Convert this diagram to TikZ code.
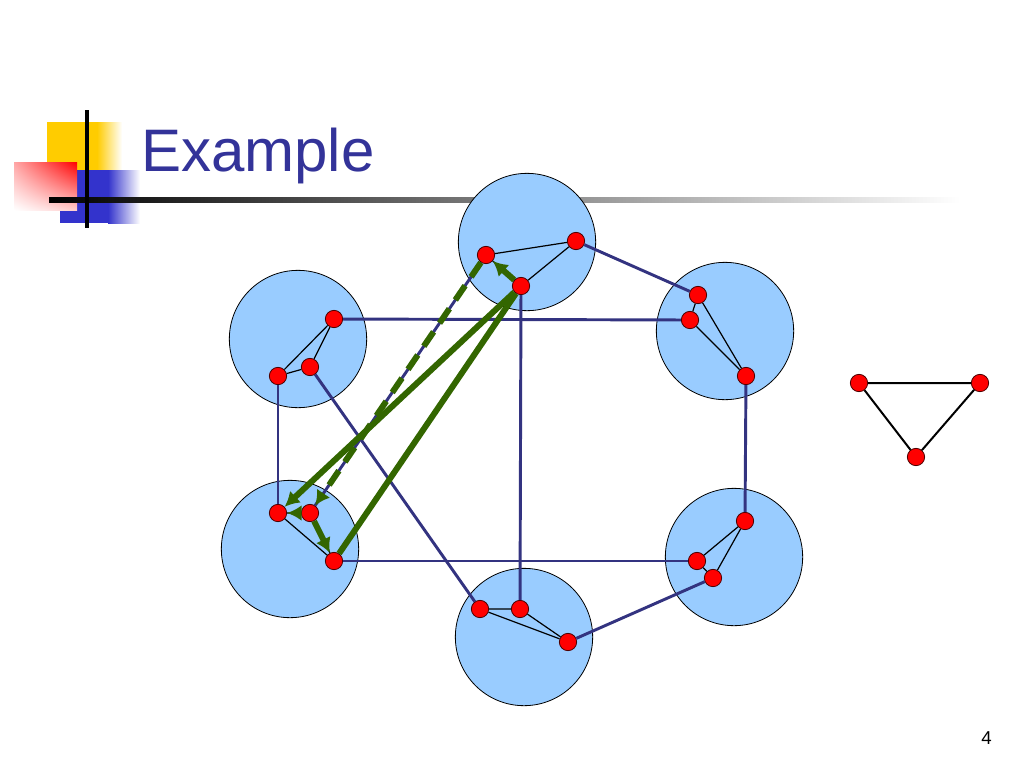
\documentclass[tikz,border=0pt]{standalone}
\usepackage{fontspec}
\setmainfont{Liberation Sans}
\usetikzlibrary{arrows.meta,shadings}
\definecolor{sky}{HTML}{99CCFF}
\definecolor{navy}{HTML}{333380}
\definecolor{leaf}{HTML}{336600}
\definecolor{ink}{HTML}{333399}
\definecolor{gold}{HTML}{FFCC00}
\definecolor{royal}{HTML}{3333CC}
\tikzstyle{cluster}=[circle, draw=black, line width=0.6pt, fill=sky, minimum size=103pt, inner sep=0pt]
\tikzstyle{v}=[circle, draw=black!70!red, line width=0.6pt, fill=red, minimum size=13pt, inner sep=0pt]
\tikzstyle{link}=[draw=navy, line width=2.2pt]
\tikzstyle{tie}=[draw=black, line width=0.9pt]
\tikzstyle{walk}=[draw=leaf, line width=4.5pt, -{Latex[length=11pt,width=12pt]}]
\tikzstyle{back}=[walk, dash pattern=on 13pt off 8pt]
\tikzstyle{plain}=[draw=black, line width=1.5pt]
\begin{document}
\begin{tikzpicture}[x=0.75pt,y=-0.75pt]
				\useasboundingbox (0,0) rectangle (1024,768);
				
				%The title bar
				\fill[gold] (47,122) rectangle (97,178);
				\shade[left color=gold, right color=white] (97,122) rectangle (122,178);
				\fill[royal] (60,170) rectangle (108,223);
				\shade[left color=royal, right color=white] (108,170) rectangle (140,223);
				\shade[upper left=red!35!white, upper right=red, lower left=white, lower right=red!20!white] (14,162) rectangle (77,210);
				\shade[left color=black, right color=white] (49,197.5) rectangle (960,202.5);
				\draw[line width=3pt] (87,110) -- (87,228);
				\draw (141,171) node[anchor=base west, inner sep=0pt, text=ink] (title) {\fontsize{45}{54}\selectfont Example};
				\draw (992,744) node[anchor=base east, inner sep=0pt] (page) {\fontsize{14}{16}\selectfont 4};
				
				%The clusters
				\draw (527,242) node[cluster] (ct) {};
				\draw (298,339) node[cluster] (cul) {};
				\draw (725,331) node[cluster] (cur) {};
				\draw (290,549) node[cluster] (cll) {};
				\draw (524,637) node[cluster] (cb) {};
				\draw (734,557) node[cluster] (clr) {};
				
				%The vertices
				\draw (486,255) node[v] (t1) {};
				\draw (576,241) node[v] (t2) {};
				\draw (521,286) node[v] (t3) {};
				\draw (334,319) node[v] (ul1) {};
				\draw (310,367) node[v] (ul2) {};
				\draw (278,376) node[v] (ul3) {};
				\draw (698,295) node[v] (ur1) {};
				\draw (690,320) node[v] (ur2) {};
				\draw (746,376) node[v] (ur3) {};
				\draw (278,513) node[v] (ll1) {};
				\draw (310,513) node[v] (ll2) {};
				\draw (334,561) node[v] (ll3) {};
				\draw (480,609) node[v] (b1) {};
				\draw (520,609) node[v] (b2) {};
				\draw (568,642) node[v] (b3) {};
				\draw (745,521) node[v] (lr1) {};
				\draw (697,561) node[v] (lr2) {};
				\draw (713,578) node[v] (lr3) {};
				
				%The links between clusters
				\draw[link] (ul1) -- (ur2);
				\draw[link] (ul3) -- (ll1);
				\draw[link] (ul2) -- (b1);
				\draw[link] (t2) -- (ur1);
				\draw[link] (t3) -- (b2);
				\draw[link] (t1) -- (ll2);
				\draw[link] (ur3) -- (lr1);
				\draw[link] (ll3) -- (lr2);
				\draw[link] (b3) -- (lr3);
				
				%The triangles inside
				\draw[tie] (t1) -- (t2) -- (t3) -- (t1);
				\draw[tie] (ul1) -- (ul2) -- (ul3) -- (ul1);
				\draw[tie] (ur1) -- (ur2) -- (ur3) -- (ur1);
				\draw[tie] (ll1) -- (ll2) -- (ll3) -- (ll1);
				\draw[tie] (b1) -- (b2) -- (b3) -- (b1);
				\draw[tie] (lr1) -- (lr2) -- (lr3) -- (lr1);
				
				%The walk
				\draw[walk] (t3) -- (t1);
				\draw[back] (t1) -- (ll2);
				\draw[walk] (ll2) -- (ll1);
				\draw[walk] (ll2) -- (ll3);
				\draw[walk] (t3) -- (ll1);
				\draw[walk, -] (ll3) -- (t3);
				
				%The pattern
				\draw (859,383) node[v] (p1) {};
				\draw (980,383) node[v] (p2) {};
				\draw (916,457) node[v] (p3) {};
				\draw[plain] (p1) -- (p2) -- (p3) -- (p1);
			\end{tikzpicture}
\end{document}
